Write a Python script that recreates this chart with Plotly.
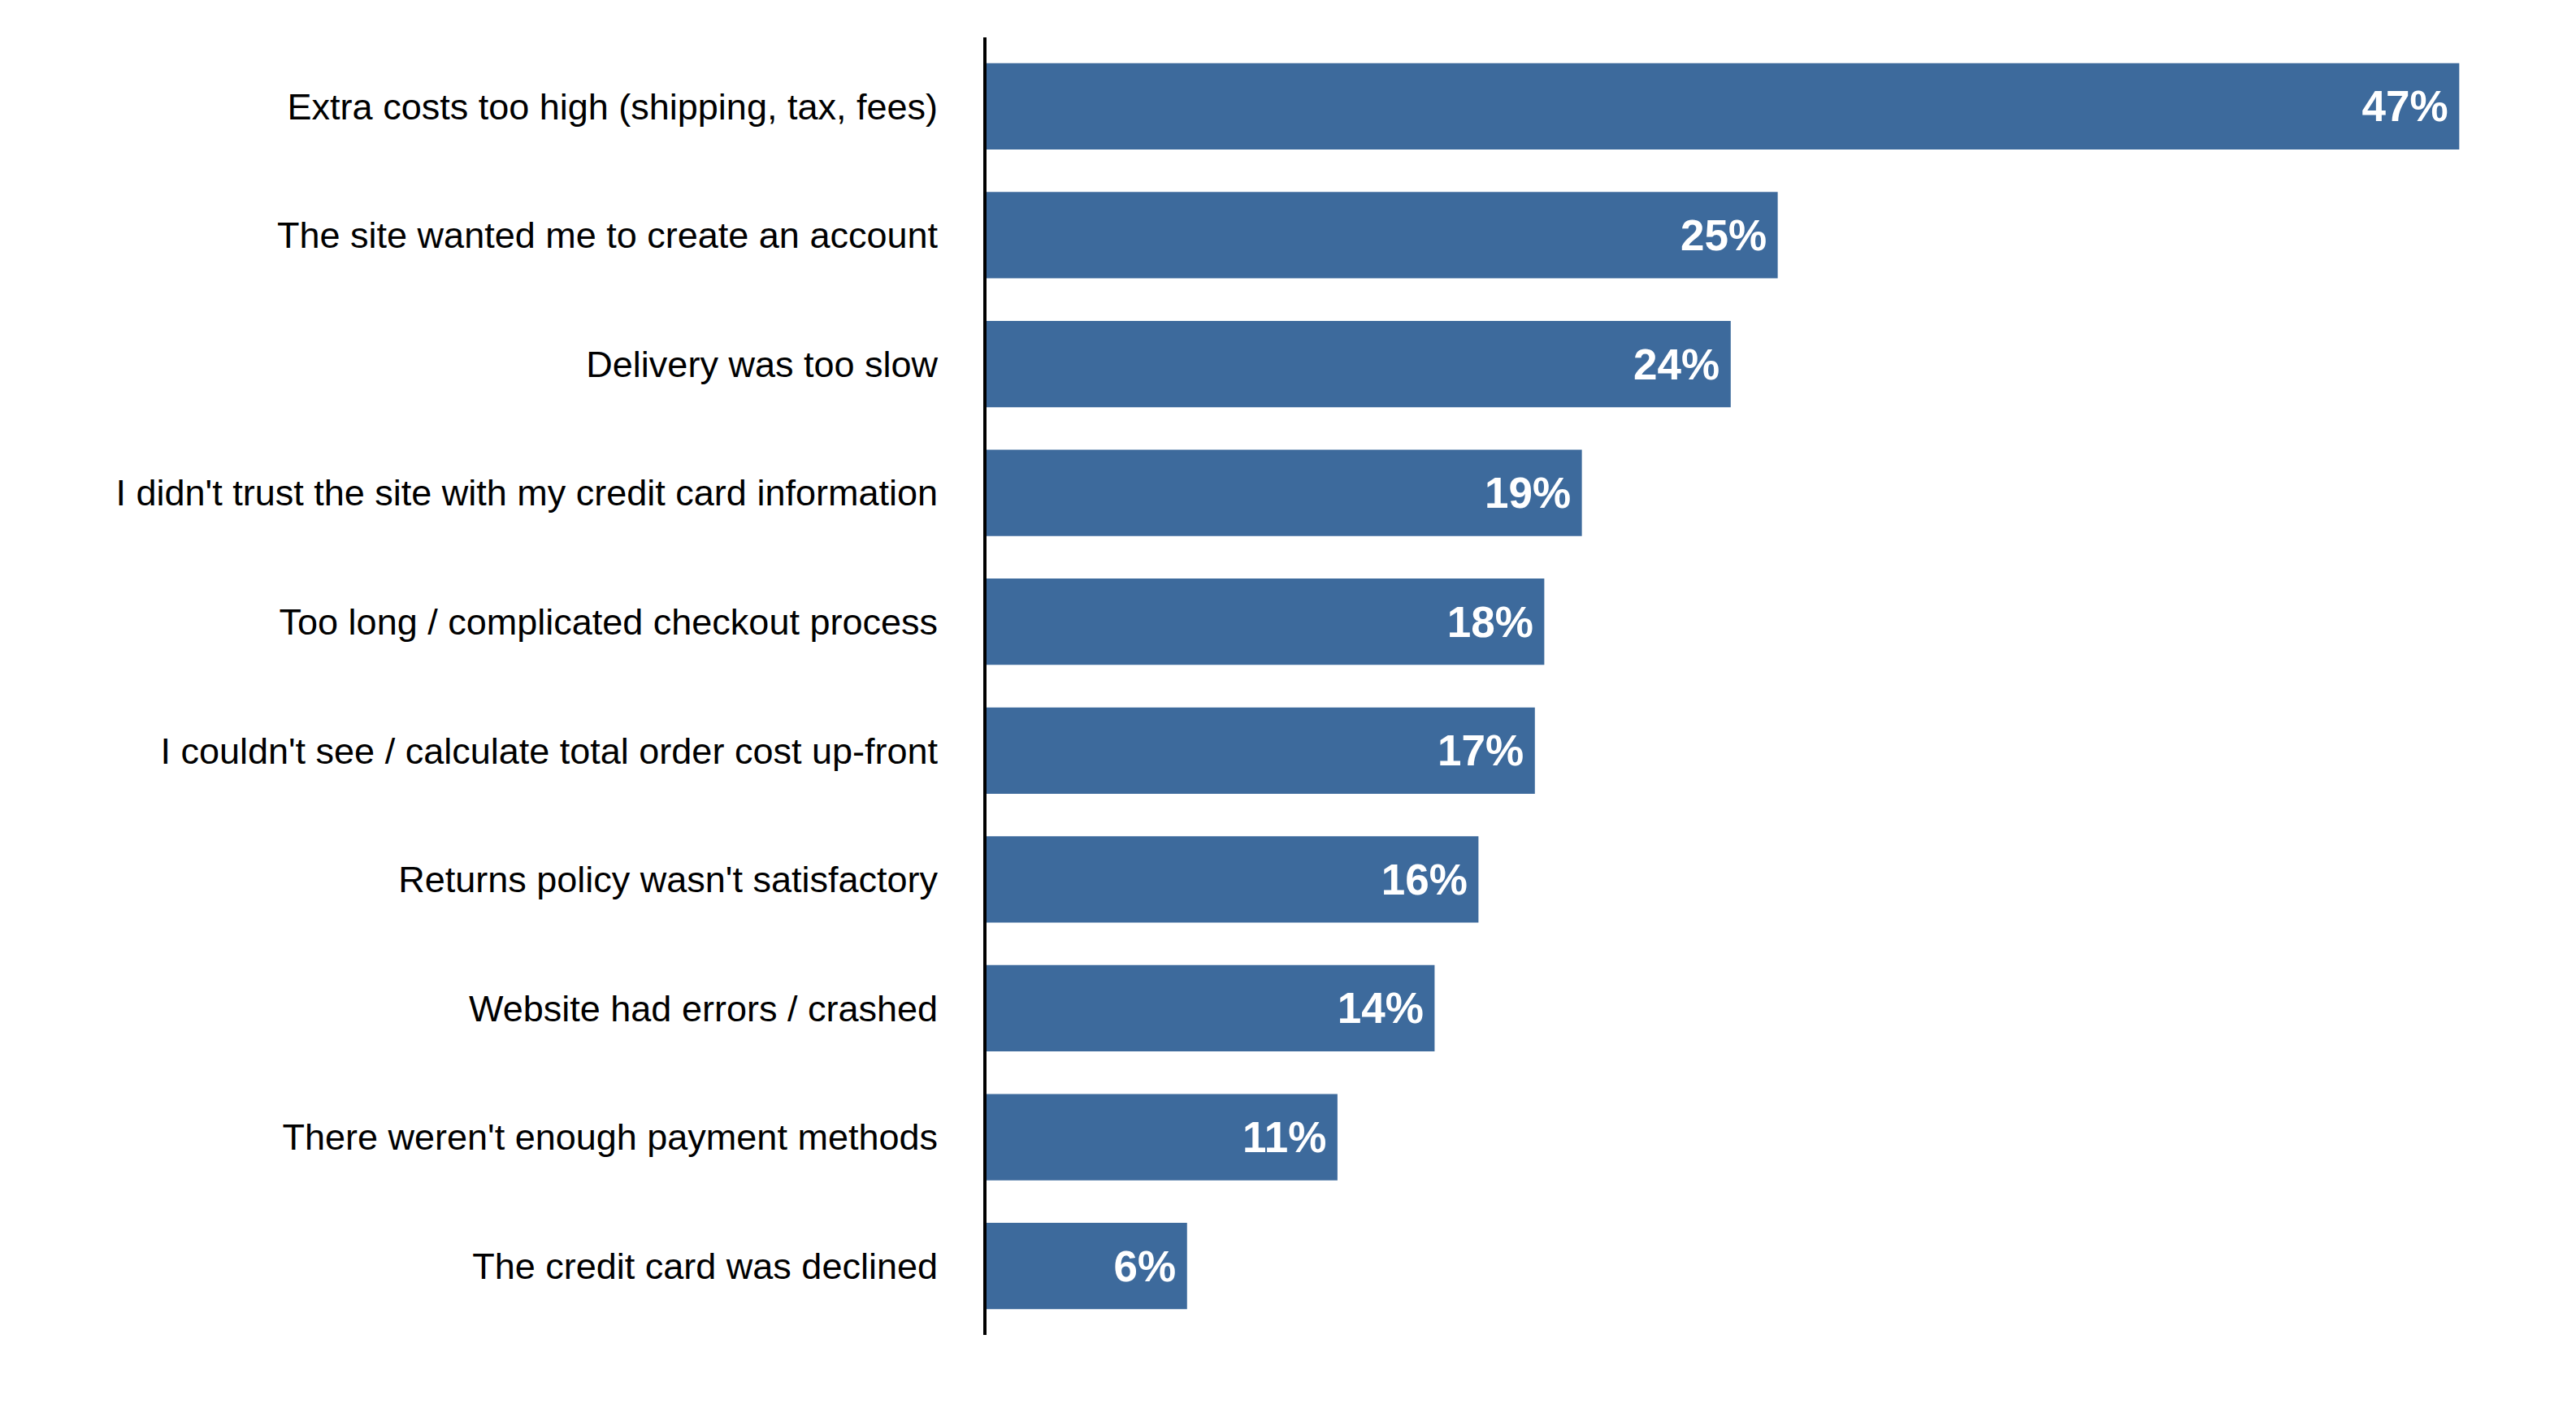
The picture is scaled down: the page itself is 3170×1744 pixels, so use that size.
import plotly.graph_objects as go

# Reasons for abandoning checkout, share of respondents (%)
reasons = [
    "Extra costs too high (shipping, tax, fees)",
    "The site wanted me to create an account",
    "Delivery was too slow",
    "I didn't trust the site with my credit card information",
    "Too long / complicated checkout process",
    "I couldn't see / calculate total order cost up-front",
    "Returns policy wasn't satisfactory",
    "Website had errors / crashed",
    "There weren't enough payment methods",
    "The credit card was declined",
]
# bar lengths
shares = [47.0, 25.25, 23.75, 19.0, 17.8, 17.5, 15.7, 14.3, 11.2, 6.4]
# printed labels
share_labels = ["47%", "25%", "24%", "19%", "18%", "17%", "16%", "14%", "11%", "6%"]

fig = go.Figure(go.Bar(
    x=shares,
    y=reasons,
    orientation="h",
    marker=dict(color="#3d6a9c", line=dict(width=0)),
    text=[s + "\u2009" for s in share_labels],
    textposition="inside",
    insidetextanchor="end",
    textfont=dict(color="white", size=53, family="Liberation Sans, Arial", weight="bold"),
    hoverinfo="skip",
))

fig.update_layout(
    width=3170,
    height=1744,
    margin=dict(l=1206, r=36, t=38, b=109),
    paper_bgcolor="white",
    plot_bgcolor="white",
    bargap=0.33,
    showlegend=False,
    font=dict(family="Liberation Sans, Arial", size=45, color="black"),
)
fig.update_xaxes(range=[0, 50], visible=False, showgrid=False, zeroline=False)
fig.update_yaxes(
    range=[9.535, -0.535],
    showline=True,
    linecolor="black",
    linewidth=4,
    showgrid=False,
    zeroline=False,
    ticks="",
    ticklabelstandoff=47,
    tickfont=dict(size=45, color="black"),
)

fig.write_html("out.html")
